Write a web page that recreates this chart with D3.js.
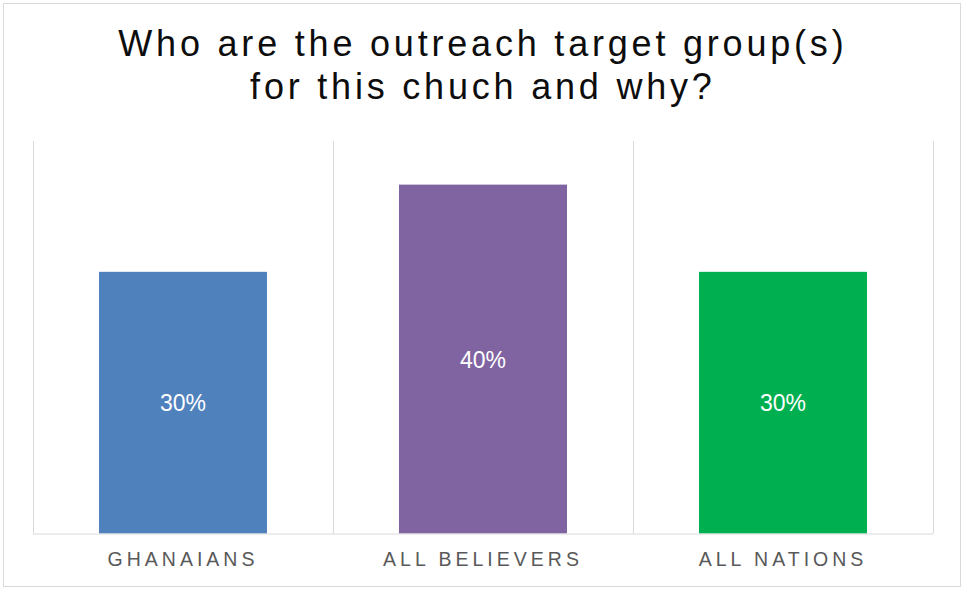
<!DOCTYPE html>
<html>
<head>
<meta charset="utf-8">
<script src="https://cdn.jsdelivr.net/npm/d3@7"></script>
<style>
  html, body { margin: 0; padding: 0; background: #fff; }
  svg { display: block; }
</style>
</head>
<body>
<svg id="chart" width="964" height="589"></svg>
<script>
// Survey answers: share of respondents per outreach target group
const categories = ["GHANAIANS", "ALL BELIEVERS", "ALL NATIONS"];
const values = [0.30, 0.40, 0.30];
const valueLabels = ["30%", "40%", "30%"];
const barColors = ["#4F81BD", "#8064A2", "#00B050"];
const titleLines = ["Who are the outreach target group(s)", "for this chuch and why?"];

const W = 964, H = 589;
const plot = { left: 33, right: 933, top: 141, bottom: 533.5 };

const svg = d3.select("#chart");

// Frame around the whole chart
svg.append("rect")
  .attr("x", 3.5).attr("y", 3.5)
  .attr("width", 957).attr("height", 583)
  .attr("fill", "#fff")
  .attr("stroke", "#d9d9d9")
  .attr("stroke-width", 1);

// Title
const titleSpacing = 3.8;
const title = svg.append("text")
  .attr("text-anchor", "middle")
  .attr("font-family", "Liberation Sans, Arial, sans-serif")
  .attr("font-size", 36)
  .attr("letter-spacing", titleSpacing)
  .attr("fill", "#0d0d0d");
titleLines.forEach((line, i) => {
  title.append("tspan")
    .attr("x", 481 + titleSpacing / 2)
    .attr("y", 56 + i * 43)
    .text(line);
});

const x = d3.scaleBand()
  .domain(categories)
  .range([plot.left, plot.right])
  .paddingInner(0)
  .paddingOuter(0);

const y = d3.scaleLinear()
  .domain([0, 0.45])
  .range([plot.bottom, plot.top]);

// Vertical category separators
const edges = categories.map(c => x(c)).concat([x.range()[1]]);
svg.append("g")
  .selectAll("line")
  .data(edges)
  .join("line")
  .attr("x1", d => d + 0.5).attr("x2", d => d + 0.5)
  .attr("y1", plot.top).attr("y2", plot.bottom)
  .attr("stroke", "#d9d9d9")
  .attr("stroke-width", 1);

// Bars
const barW = x.bandwidth() * 0.56;
const rows = categories.map((c, i) => ({ c, v: values[i], label: valueLabels[i], color: barColors[i] }));

svg.append("g")
  .selectAll("rect")
  .data(rows)
  .join("rect")
  .attr("x", d => x(d.c) + (x.bandwidth() - barW) / 2)
  .attr("y", d => y(d.v))
  .attr("width", barW)
  .attr("height", d => y(0) - y(d.v))
  .attr("fill", d => d.color);

// Value labels inside bars
svg.append("g")
  .selectAll("text")
  .data(rows)
  .join("text")
  .attr("x", d => x(d.c) + x.bandwidth() / 2)
  .attr("y", d => (y(d.v) + y(0)) / 2)
  .attr("dy", "0.38em")
  .attr("text-anchor", "middle")
  .attr("font-family", "Liberation Sans, Arial, sans-serif")
  .attr("font-size", 23)
  .attr("fill", "#ffffff")
  .text(d => d.label);

// Category axis
const axis = svg.append("g")
  .attr("transform", `translate(0,${plot.bottom})`)
  .call(d3.axisBottom(x).tickSize(0).tickPadding(19));
axis.select(".domain").attr("stroke", "#d9d9d9").attr("d", `M${plot.left},0.5H${plot.right}`);
axis.selectAll("text")
  .attr("font-family", "Liberation Sans, Arial, sans-serif")
  .attr("font-size", 19.5)
  .attr("letter-spacing", 4.0)
  .attr("fill", "#595959")
  .attr("dx", "0");
</script>
</body>
</html>
